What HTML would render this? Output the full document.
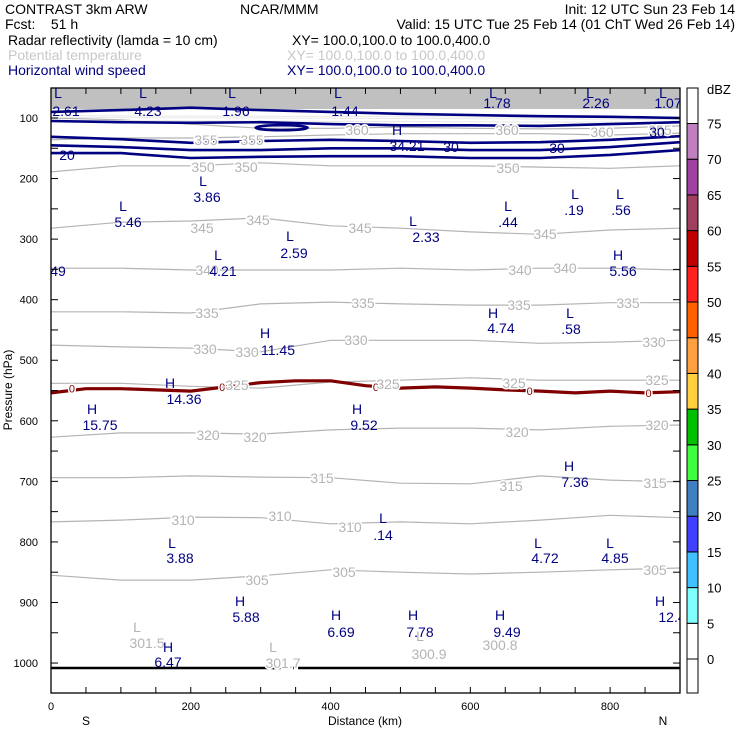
<!DOCTYPE html>
<html><head><meta charset="utf-8"><style>
body{margin:0;background:#fff;width:740px;height:740px;overflow:hidden}
svg{display:block;font-family:"Liberation Sans",sans-serif}
.hd{font-size:14px}
.nv{fill:#000080;font-size:14px;text-anchor:middle}
.gy{fill:#b4b4b4;font-size:14px;text-anchor:middle;stroke:#fff;stroke-width:3px;paint-order:stroke}
.tk{font-size:11px}
</style></head><body>
<svg id="chart" width="740" height="740" viewBox="0 0 740 740">
<g class="hd">
<text x="5" y="14">CONTRAST  3km ARW</text>
<text x="240" y="14">NCAR/MMM</text>
<text x="735" y="14" text-anchor="end">Init: 12 UTC Sun 23 Feb 14</text>
<text x="5" y="29" xml:space="preserve">Fcst:    51 h</text>
<text x="735" y="29" text-anchor="end">Valid: 15 UTC Tue 25 Feb 14 (01 ChT Wed 26 Feb 14)</text>
<text x="8" y="45">Radar reflectivity (lamda = 10 cm)</text>
<text x="292" y="45">XY= 100.0,100.0 to 100.0,400.0</text>
<text x="8" y="60" fill="#c8c8c8">Potential temperature</text>
<text x="287" y="60" fill="#c8c8c8">XY= 100.0,100.0 to 100.0,400.0</text>
<text x="8" y="75" fill="#000080">Horizontal wind speed</text>
<text x="287" y="75" fill="#000080">XY= 100.0,100.0 to 100.0,400.0</text>
</g>
<defs><clipPath id="pc"><rect x="51" y="88" width="629" height="605"/></clipPath></defs>
<g id="plot" clip-path="url(#pc)">
<rect x="51" y="88" width="629" height="21" fill="#c0c0c0"/>
<g id="theta"></g><g id="wind"></g><g id="frz"></g>
<line x1="51" y1="668" x2="680" y2="668" stroke="#000" stroke-width="2.5"/>
<g class="gy">
<text x="203" y="172">350</text><text x="246" y="172">350</text><text x="508" y="173">350</text>
<text x="206" y="145">355</text><text x="252" y="145">355</text><text x="660" y="135">355</text>
<text x="357" y="135">360</text><text x="507" y="135">360</text><text x="602" y="137">360</text>
<text x="202" y="233">345</text><text x="258" y="225">345</text><text x="360" y="233">345</text><text x="545" y="239">345</text>
<text x="207" y="275">340</text><text x="520" y="275">340</text><text x="565" y="273">340</text>
<text x="207" y="318">335</text><text x="363" y="308">335</text><text x="519" y="310">335</text><text x="628" y="308">335</text>
<text x="205" y="354">330</text><text x="247" y="357">330</text><text x="356" y="345">330</text><text x="654" y="347">330</text>
<text x="237" y="390">325</text><text x="388" y="389">325</text><text x="514" y="388">325</text><text x="657" y="385">325</text>
<text x="208" y="440">320</text><text x="255" y="442">320</text><text x="517" y="437">320</text><text x="657" y="430">320</text>
<text x="322" y="483">315</text><text x="511" y="491">315</text><text x="655" y="488">315</text>
<text x="183" y="525">310</text><text x="280" y="521">310</text><text x="350" y="532">310</text>
<text x="257" y="585">305</text><text x="344" y="577">305</text><text x="655" y="575">305</text>
<text x="137" y="632">L</text><text x="147" y="648">301.5</text>
<text x="273" y="652">L</text><text x="283" y="668">301.7</text>
<text x="420" y="641">L</text><text x="429" y="659">300.9</text>
<text x="500" y="650">300.8</text>
</g>
<g class="nv">
<text x="58" y="98">L</text><text x="66" y="116">2.61</text>
<text x="143" y="98">L</text><text x="148" y="116">4.23</text>
<text x="232" y="98">L</text><text x="236" y="116">1.96</text>
<text x="338" y="98">L</text><text x="345" y="116">1.44</text>
<text x="493" y="98">L</text><text x="497" y="108">1.78</text>
<text x="590" y="98">L</text><text x="596" y="108">2.26</text>
<text x="663" y="98">L</text><text x="668" y="108">1.07</text>
<text x="397" y="135">H</text><text x="407" y="151">34.21</text>
<text x="67" y="160">20</text><text x="451" y="152">30</text><text x="557" y="153">30</text><text x="657" y="137">30</text>
<text x="203" y="186">L</text><text x="207" y="202">3.86</text>
<text x="123" y="211">L</text><text x="128" y="227">5.46</text>
<text x="413" y="226">L</text><text x="426" y="242">2.33</text>
<text x="508" y="211">L</text><text x="508" y="227">.44</text>
<text x="575" y="199">L</text><text x="574" y="215">.19</text>
<text x="620" y="199">L</text><text x="621" y="215">.56</text>
<text x="290" y="241">L</text><text x="294" y="258">2.59</text>
<text x="218" y="260">L</text><text x="223" y="276">4.21</text>
<text x="58" y="276">49</text>
<text x="618" y="260">H</text><text x="623" y="276">5.56</text>
<text x="493" y="318">H</text><text x="501" y="333">4.74</text>
<text x="570" y="318">L</text><text x="571" y="334">.58</text>
<text x="265" y="338">H</text><text x="278" y="355">11.45</text>
<text x="170" y="388">H</text><text x="184" y="404">14.36</text>
<text x="92" y="414">H</text><text x="100" y="430">15.75</text>
<text x="357" y="414">H</text><text x="364" y="430">9.52</text>
<text x="569" y="471">H</text><text x="575" y="487">7.36</text>
<text x="383" y="523">L</text><text x="383" y="540">.14</text>
<text x="172" y="548">L</text><text x="180" y="563">3.88</text>
<text x="538" y="548">L</text><text x="545" y="563">4.72</text>
<text x="610" y="548">L</text><text x="615" y="563">4.85</text>
<text x="240" y="606">H</text><text x="246" y="622">5.88</text>
<text x="336" y="620">H</text><text x="341" y="637">6.69</text>
<text x="413" y="620">H</text><text x="420" y="637">7.78</text>
<text x="500" y="620">H</text><text x="507" y="637">9.49</text>
<text x="660" y="606">H</text><text x="672" y="622">12.4</text>
<text x="168" y="652">H</text><text x="168" y="667">6.47</text>
</g>
</g>
<rect x="51" y="88" width="629" height="605" fill="none" stroke="#000" stroke-width="1.3"/>
<g id="axes"></g>
<text x="12" y="390" font-size="12" text-anchor="middle" transform="rotate(-90 12 390)">Pressure (hPa)</text>
<text x="365" y="725" font-size="12" text-anchor="middle">Distance (km)</text>
<text x="86" y="725" font-size="12" text-anchor="middle">S</text>
<text x="663" y="725" font-size="12" text-anchor="middle">N</text>
<g id="cbar"></g>
<text x="707" y="94" font-size="13">dBZ</text>
</svg>
<script>
const NS="http://www.w3.org/2000/svg";
const kmPts=[0,100,200,300,400,500,600,700,800,900];
const thetaLevels=[360,355,350,345,340,335,330,325,320,315,310,305];
const thetaP=[
[100,103,110,117,117,115,117,118,117,113],
[136,133,133,131,128,126,126,126,128,125],
[189,179,179,174,179,179,179,181,183,179],
[282,272,270,265,278,282,288,292,285,282],
[348,348,351,351,351,348,351,348,348,351],
[420,420,422,407,404,407,409,409,405,405],
[475,478,480,486,467,467,467,472,470,467],
[538,538,543,546,536,533,529,533,533,533],
[627,620,620,622,615,612,612,615,609,607],
[694,694,691,693,694,703,704,691,698,701],
[767,764,759,760,770,767,770,764,756,760],
[855,863,863,856,846,850,853,850,846,843]];
const windP=[
[90,87,83,87,90,93,95,97,98,100],
[105,107,108,107,110,112,112,113,110,107],
[131,135,141,138,136,138,141,140,136,130],
[145,148,153,153,150,150,153,153,148,140],
[158,158,166,164,163,163,166,166,161,153]];
const frzKm=[0,50,100,150,200,250,300,350,400,450,500,550,600,650,700,750,800,850,900];
const frzP=[554,547,547,549,551,544,537,534,534,542,546,544,546,549,551,554,551,554,552];
const cbLevels=[0,5,10,15,20,25,30,35,40,45,50,55,60,65,70,75];
const cbColors=["#ffffff","#ffffff","#80ffff","#40c0ff","#4040ff","#4080c0","#40ff40","#00c000","#ffd040","#ffa040","#ff6000","#ff2020","#c00000","#a04060","#a040a0","#c080c0","#ffffff"];
const yTicks=[100,200,300,400,500,600,700,800,900,1000];
const xTicks=[0,200,400,600,800];
const X=k=>51+k*629/900;
const Y=p=>118+(p-100)*0.6056;
function el(t,a,parent){const e=document.createElementNS(NS,t);for(const k in a)e.setAttribute(k,a[k]);parent.appendChild(e);return e;}
function path(ks,ps){return ks.map((k,i)=>(i?"L":"M")+X(k).toFixed(1)+","+Y(ps[i]).toFixed(1)).join(" ");}
const gT=document.getElementById('theta');
thetaP.forEach((ps,i)=>{const e=el('path',{d:path(kmPts,ps),fill:'none',stroke:'#b4b4b4','stroke-width':1.2},gT);

});
const gW=document.getElementById('wind');
[96,99,104].forEach(p=>{const e=el('line',{x1:51,x2:680,y1:Y(p),y2:Y(p)+2,stroke:'#e8e8e8','stroke-width':1},gW);

});
windP.forEach((ps,i)=>{const e=el('path',{d:path(kmPts,ps),fill:'none',stroke:'#000080','stroke-width':2.6},gW);

});
const oe=el('ellipse',{cx:X(330),cy:Y(116),rx:26,ry:2.5,fill:'none',stroke:'#000080','stroke-width':2.6},gW);


const gF=document.getElementById('frz');
const fl=el('path',{d:path(frzKm,frzP),fill:'none',stroke:'#800000','stroke-width':3.2},gF);


[[30,547],[245,544],[465,544],[685,551],[855,554]].forEach(([k,p])=>{
const t=el('text',{x:X(k),y:Y(p)+4,'font-size':11,fill:'#800000','text-anchor':'middle',stroke:'#fff','stroke-width':3,'paint-order':'stroke'},gF);
t.textContent='0';

});
const gA=document.getElementById('axes');
for(let p=100;p<=1000;p+=50){
el('line',{x1:51,x2:58,y1:Y(p),y2:Y(p),stroke:'#000'},gA);
el('line',{x1:673,x2:680,y1:Y(p),y2:Y(p),stroke:'#000'},gA);}
for(let k=50;k<900;k+=50){
el('line',{x1:X(k),x2:X(k),y1:693,y2:687,stroke:'#000'},gA);
el('line',{x1:X(k),x2:X(k),y1:88,y2:94,stroke:'#000'},gA);}
yTicks.forEach(p=>{const t=el('text',{x:38,y:Y(p)+4,'text-anchor':'end',class:'tk'},gA);t.textContent=p;

});
xTicks.forEach(k=>{const t=el('text',{x:X(k),y:710,'text-anchor':'middle',class:'tk'},gA);t.textContent=k;

});
const gC=document.getElementById('cbar');
const CB=v=>659-v*35.7/5;
const bounds=[693].concat(cbLevels.map(CB)).concat([88]);
cbColors.forEach((c,i)=>{const r=el('rect',{x:687,y:bounds[i+1],width:11,height:bounds[i]-bounds[i+1],fill:c,stroke:'#000','stroke-width':1},gC);

});
cbLevels.forEach(v=>{const t=el('text',{x:707,y:CB(v)+5,'font-size':13},gC);t.textContent=v;

});
</script>
</body></html>
